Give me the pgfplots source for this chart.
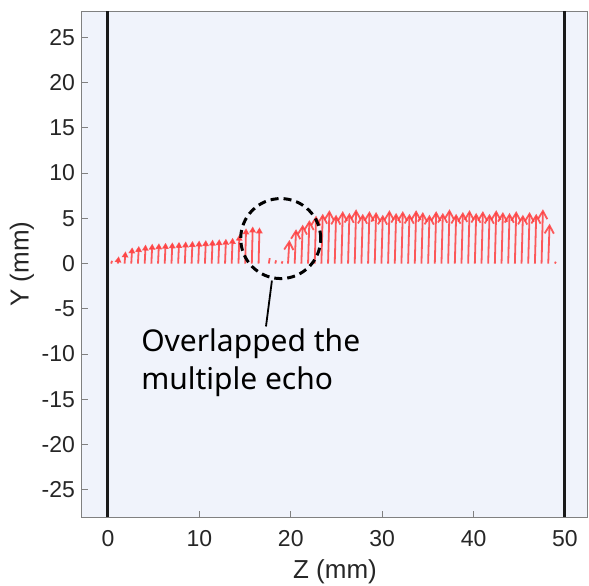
\documentclass[border=0pt]{standalone}
\usepackage{pgfplots}
\pgfplotsset{compat=1.18}
\usepackage{pgfplotstable}
\usetikzlibrary{arrows.meta}
\usepackage{fontspec}
\setmainfont{Liberation Sans}
\newfontfamily\annfont{Noto Sans}

\definecolor{bgblue}{RGB}{240,243,251}
\definecolor{arrred}{RGB}{255,62,62}
\definecolor{framegray}{RGB}{128,128,128}
\definecolor{txtgray}{RGB}{38,38,38}

% tiny echoes (no visible head)
\pgfplotstableread{
x v
0.35 0.30
17.60 0.60
18.30 0.35
19.00 0.25
48.90 0.20
}\tinyarrows

% first echo region
\pgfplotstableread{
x v
1.08 0.80
1.82 1.35
2.55 1.80
3.28 1.95
4.02 2.10
4.75 2.20
5.48 2.25
6.21 2.30
6.95 2.35
7.68 2.40
8.41 2.45
9.15 2.50
9.88 2.55
10.61 2.60
11.35 2.65
12.08 2.70
12.81 2.75
13.54 2.85
14.28 3.20
15.01 3.90
15.74 4.10
16.48 4.00
}\leftarrows

% second echo region
\pgfplotstableread{
x v
19.70 2.60
20.43 3.80
21.16 4.30
21.89 4.80
22.62 5.30
23.35 5.50
24.08 5.90
24.81 5.40
25.54 5.80
26.27 5.60
27.00 6.00
27.73 5.50
28.46 5.80
29.19 5.70
29.92 5.40
30.65 5.90
31.38 5.60
32.11 5.80
32.84 5.50
33.57 5.90
34.30 5.70
35.03 5.40
35.76 5.80
36.49 5.60
37.22 6.00
37.95 5.50
38.68 5.70
39.41 5.90
40.14 5.60
40.87 5.80
41.60 5.50
42.33 5.90
43.06 5.70
43.79 5.60
44.52 5.80
45.25 5.40
45.98 5.70
46.71 5.50
47.44 6.00
48.17 4.40
}\rightarrows

\begin{document}
\begin{tikzpicture}
\begin{axis}[
    scale only axis,
    width=253pt,
    height=253pt,
    xmin=-2.84, xmax=52.52,
    ymin=-28, ymax=27.9,
    xtick={0,10,...,50},
    ytick={-25,-20,...,25},
    xtick pos=left,
    ytick pos=left,
    tick align=inside,
    major tick length=3pt,
    axis line style={framegray, line width=0.5pt},
    tick style={framegray, line width=0.5pt},
    axis background/.style={fill=bgblue},
    /pgf/number format/assume math mode=true,
    tick label style={font=\fontsize{11.5}{13}\selectfont, text=txtgray},
    xticklabel style={yshift=-3pt},
    label style={font=\fontsize{13}{15}\selectfont, text=txtgray},
    xlabel={Z (mm)},
    ylabel={Y (mm)},
    xlabel style={at={(axis description cs:0.5,-0.109)}, anchor=center},
    ylabel style={at={(axis description cs:-0.1186,0.5)}, anchor=center, rotate=0},
    clip=false,
]

% walls at Z = 0 and Z = 50
\addplot[black!90, line width=1.5pt] coordinates {(0,-28) (0,27.9)};
\addplot[black!90, line width=1.5pt] coordinates {(50,-28) (50,27.9)};

\addplot[arrred, opacity=0.85, line width=0.9pt,
    quiver={u=0.1, v=\thisrow{v}}] table[x=x, y expr=0] {\tinyarrows};

\addplot[arrred, opacity=0.85, line width=0.9pt,
    -{Triangle[length=3pt, width=3.2pt]},
    quiver={u=0.1, v=\thisrow{v}}] table[x=x, y expr=0] {\leftarrows};

\addplot[arrred, opacity=0.85, line width=0.9pt,
    -{Straight Barb[length=4pt, width=4.6pt]},
    quiver={u=0.15, v=\thisrow{v}}] table[x=x, y expr=0] {\rightarrows};

% annotation
\draw[black, line width=1.5pt, dash pattern=on 4pt off 2.5pt]
    (axis cs:18.9,2.76) circle[radius=20pt];
\draw[black, line width=0.9pt] (axis cs:17.94,-1.88) -- (axis cs:17.29,-6.95);
\node[anchor=north west, inner sep=0pt, align=left,
      font=\annfont\fontsize{15}{19}\selectfont]
    at (axis cs:3.6,-7.2) {Overlapped the\\multiple echo};
\end{axis}
\pgfresetboundingbox
\path[use as bounding box] (-41pt,-34pt) rectangle (253.5pt,258.5pt);
\end{tikzpicture}
\end{document}
